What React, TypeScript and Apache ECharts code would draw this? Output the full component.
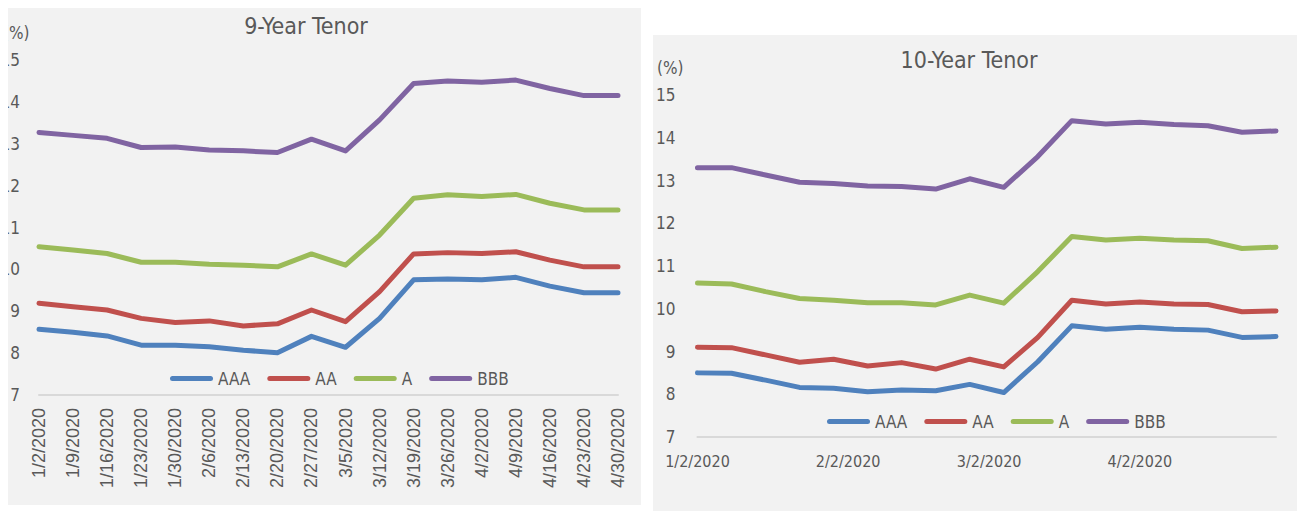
import React, { useEffect, useRef } from 'react';
import * as echarts from 'echarts';

const dates = [
  '1/2/2020', '1/9/2020', '1/16/2020', '1/23/2020', '1/30/2020', '2/6/2020',
  '2/13/2020', '2/20/2020', '2/27/2020', '3/5/2020', '3/12/2020', '3/19/2020',
  '3/26/2020', '4/2/2020', '4/9/2020', '4/16/2020', '4/23/2020', '4/30/2020',
];
const ratings = ['AAA', 'AA', 'A', 'BBB'];
const colors = ['#4F81BD', '#C0504D', '#9BBB59', '#8064A2'];

// 9-Year Tenor (%)
const aaa9 = [8.57, 8.50, 8.41, 8.19, 8.19, 8.15, 8.07, 8.01, 8.40, 8.14, 8.83, 9.75, 9.77, 9.75, 9.81, 9.60, 9.44, 9.44];
const aa9 = [9.19, 9.11, 9.03, 8.83, 8.73, 8.77, 8.65, 8.70, 9.03, 8.75, 9.47, 10.37, 10.40, 10.38, 10.42, 10.22, 10.06, 10.06];
const a9 = [10.54, 10.46, 10.38, 10.17, 10.17, 10.12, 10.10, 10.06, 10.37, 10.10, 10.82, 11.70, 11.78, 11.74, 11.79, 11.58, 11.42, 11.42];
const bbb9 = [13.27, 13.20, 13.13, 12.91, 12.92, 12.85, 12.83, 12.79, 13.11, 12.83, 13.57, 14.44, 14.50, 14.47, 14.52, 14.32, 14.15, 14.15];

// 10-Year Tenor (%)
const aaa10 = [8.50, 8.49, 8.33, 8.16, 8.14, 8.06, 8.10, 8.08, 8.23, 8.04, 8.76, 9.60, 9.52, 9.57, 9.52, 9.50, 9.33, 9.35];
const aa10 = [9.10, 9.09, 8.92, 8.75, 8.82, 8.66, 8.74, 8.59, 8.82, 8.64, 9.33, 10.20, 10.11, 10.16, 10.11, 10.10, 9.93, 9.95];
const a10 = [10.60, 10.58, 10.40, 10.24, 10.20, 10.14, 10.14, 10.09, 10.32, 10.13, 10.87, 11.69, 11.61, 11.65, 11.61, 11.59, 11.41, 11.44];
const bbb10 = [13.30, 13.30, 13.13, 12.96, 12.93, 12.87, 12.86, 12.80, 13.04, 12.84, 13.56, 14.40, 14.32, 14.36, 14.31, 14.28, 14.13, 14.16];

const tenYearTickDates = ['1/2/2020', '2/2/2020', '3/2/2020', '4/2/2020'];
const yMin = 7;
const yMax = 15;
const yStep = 1;

const NARROW = "'Liberation Sans Narrow', 'Arial Narrow', 'DejaVu Sans Condensed', sans-serif";
const REGULAR = "'Liberation Sans', Arial, sans-serif";
const TEXT = '#595959';
const BG = '#F2F2F2';
const LEGEND_ICON = 'path://M2.5,0 L40.5,0 A2.5,2.5 0 0 1 40.5,5 L2.5,5 A2.5,2.5 0 0 1 2.5,0 Z';

function toTime(s: string) {
  const [m, d, y] = s.split('/').map(Number);
  return Date.UTC(y, m - 1, d);
}
function fmt(v: number) {
  const d = new Date(v);
  return `${d.getUTCMonth() + 1}/${d.getUTCDate()}/${d.getUTCFullYear()}`;
}

function makeSeries(values: number[][], useTime: boolean) {
  return ratings.map((name, i) => ({
    name,
    type: 'line',
    symbol: 'none',
    smooth: false,
    lineStyle: { width: 5, color: colors[i], cap: 'round', join: 'round' },
    itemStyle: { color: colors[i] },
    data: useTime ? dates.map((d, j) => [toTime(d), values[i][j]]) : values[i],
  }));
}

function yAxisOpt(margin: number) {
  return {
    type: 'value',
    min: yMin,
    max: yMax,
    interval: yStep,
    axisLine: { show: false },
    axisTick: { show: false },
    splitLine: { show: false },
    axisLabel: { color: TEXT, fontSize: 17, fontFamily: NARROW, margin },
  };
}

function legendOpt(top: number) {
  return {
    left: 169,
    top,
    itemWidth: 43,
    itemHeight: 5,
    itemGap: 17,
    icon: LEGEND_ICON,
    data: ratings,
    textStyle: { color: TEXT, fontSize: 17, fontFamily: NARROW },
  };
}

const option9 = {
  animation: false,
  color: colors,
  textStyle: { fontFamily: NARROW },
  grid: { left: 43, right: 23, top: 52, bottom: 110 },
  graphic: [
    { type: 'text', x: 310, y: 18, style: { text: '9-Year Tenor', fill: TEXT, fontSize: 23, fontFamily: NARROW, align: 'center', verticalAlign: 'middle' } },
    { type: 'text', x: 7, y: 25, style: { text: '(%)', fill: TEXT, fontSize: 17, fontFamily: NARROW, align: 'left', verticalAlign: 'middle' } },
  ],
  legend: legendOpt(357),
  xAxis: {
    type: 'category',
    data: dates,
    boundaryGap: false,
    axisLine: { lineStyle: { color: '#D9D9D9', width: 2 } },
    axisTick: { show: false },
    axisLabel: { rotate: 90, interval: 0, color: TEXT, fontSize: 18, fontFamily: REGULAR, margin: 13 },
  },
  yAxis: yAxisOpt(19),
  series: makeSeries([aaa9, aa9, a9, bbb9], false),
};

const option10 = {
  animation: false,
  color: colors,
  textStyle: { fontFamily: NARROW },
  grid: { left: 44, right: 21, top: 60, bottom: 74 },
  graphic: [
    { type: 'text', x: 316, y: 25, style: { text: '10-Year Tenor', fill: TEXT, fontSize: 23, fontFamily: NARROW, align: 'center', verticalAlign: 'middle' } },
    { type: 'text', x: 4, y: 33, style: { text: '(%)', fill: TEXT, fontSize: 17, fontFamily: NARROW, align: 'left', verticalAlign: 'middle' } },
  ],
  legend: legendOpt(373),
  xAxis: {
    type: 'value',
    min: toTime(dates[0]),
    max: toTime(dates[dates.length - 1]),
    axisLine: { show: true, lineStyle: { color: '#D9D9D9', width: 2 } },
    axisTick: { show: false },
    splitLine: { show: false },
    axisLabel: {
      customValues: tenYearTickDates.map(toTime),
      formatter: (v: number) => fmt(v),
      color: TEXT,
      fontSize: 16,
      fontFamily: NARROW,
      margin: 16,
      hideOverlap: false,
    },
  },
  yAxis: yAxisOpt(22),
  series: makeSeries([aaa10, aa10, a10, bbb10], true),
};

function Chart({ option, style }: { option: any; style: React.CSSProperties }) {
  const ref = useRef<HTMLDivElement>(null);
  useEffect(() => {
    if (!ref.current) return;
    const chart = echarts.init(ref.current, undefined, { renderer: 'svg' });
    chart.setOption(option);
    return () => chart.dispose();
  }, [option]);
  return <div ref={ref} style={style} />;
}

export default function App() {
  return (
    <div style={{ position: 'absolute', left: 0, top: 0, width: 1297, height: 511, background: '#fff', overflow: 'hidden' }}>
      <div style={{ position: 'absolute', left: 8, top: 8, width: 633, height: 497, background: BG, overflow: 'hidden' }}>
        <Chart option={option9} style={{ position: 'absolute', left: -12, top: 0, width: 645, height: 497 }} />
      </div>
      <div style={{ position: 'absolute', left: 653, top: 35, width: 644, height: 476, background: BG, overflow: 'hidden' }}>
        <Chart option={option10} style={{ position: 'absolute', left: 0, top: 0, width: 644, height: 476 }} />
      </div>
    </div>
  );
}
